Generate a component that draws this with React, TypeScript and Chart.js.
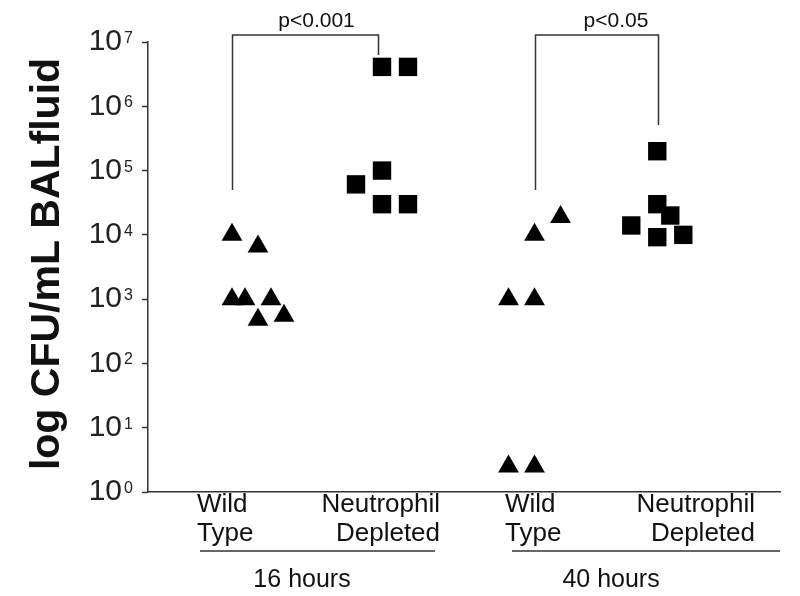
import React, { useEffect, useRef } from 'react';
import { Chart, registerables } from 'chart.js';

Chart.register(...registerables);

// ---- data ----
const GROUP_X = [1, 2, 3.23, 4.22];
const GROUP_LABELS = [
  ['Wild', 'Type'],
  ['Neutrophil', 'Depleted'],
  ['Wild', 'Type'],
  ['Neutrophil', 'Depleted'],
];
const GROUP_LABEL_ANCHOR_X = [0.508, 2.468, 2.992, 5.008];
const GROUP_LABEL_ALIGN = ['left', 'right', 'left', 'right'];
const TIME_LABELS = ['16 hours', '40 hours'];
const Y_TICK_EXPONENTS = [0, 1, 2, 3, 4, 5, 6, 7];
const Y_TITLE = 'log CFU/mL BALfluid';

const WT16_VALUES = [1e4, 6.6e3, 1e3, 1e3, 1e3, 4.8e2, 5.5e2];
const WT16_JITTER = [-1, 0, -1, -0.5, 0.5, 0, 1];
const ND16_VALUES = [4.1e6, 4.1e6, 1e5, 6.1e4, 3e4, 3e4];
const ND16_JITTER = [0, 1, 0, -1, 0, 1];
const WT40_VALUES = [1.9e4, 1e4, 1e3, 1e3, 2.5, 2.5];
const WT40_JITTER = [1, 0, -1, 0, -1, 0];
const ND40_VALUES = [2e5, 3e4, 2e4, 1.4e4, 9.2e3, 1e4];
const ND40_JITTER = [0, 0, 0.5, -1, 0, 1];

const P_LABELS = ['p<0.001', 'p<0.05'];
const BRACKET_X = [[0.79, 1.968], [3.234, 4.226]];
const BRACKET_LEG_VALUES = [[5e4, 6.3e6], [5e4, 5.1e5]];
const P_TEXT_X = [1.472, 3.887];
const TIME_UNDERLINE_X = [[0.532, 2.427], [3.048, 5.21]];
const TIME_LABEL_X = [1.355, 3.847];

const FAMILY = 'Arial, "Liberation Sans", Helvetica, sans-serif';
const JITTER_UNIT = 26 / 124;

function points(values: number[], jitter: number[], g: number) {
  return values.map((v, i) => ({ x: GROUP_X[g] + jitter[i] * JITTER_UNIT, y: v }));
}

const TICK_LEN = 6;
const TICK_PAD = 20;

const overlay = {
  id: 'overlay',
  afterDraw(chart: any) {
    const { ctx, scales } = chart;
    const xs = scales.x;
    const ys = scales.y;
    ctx.save();
    ctx.fillStyle = '#111';
    ctx.strokeStyle = '#333';
    ctx.lineWidth = 1.5;

    // exponents of the y tick labels
    ctx.font = `16px ${FAMILY}`;
    ctx.textAlign = 'left';
    ctx.textBaseline = 'alphabetic';
    ctx.fillStyle = '#222';
    Y_TICK_EXPONENTS.forEach((e) => {
      const py = ys.getPixelForValue(Math.pow(10, e));
      ctx.fillText(String(e), ys.right - TICK_LEN - TICK_PAD + 2, py + 1);
    });
    ctx.fillStyle = '#111';

    // y title
    ctx.save();
    ctx.translate(59, (ys.top + ys.bottom) / 2 - 3);
    ctx.rotate(-Math.PI / 2);
    ctx.font = `bold 41px ${FAMILY}`;
    ctx.textAlign = 'center';
    ctx.fillText(Y_TITLE, 0, 0);
    ctx.restore();

    // category labels
    ctx.font = `26px ${FAMILY}`;
    GROUP_LABELS.forEach((lines, g) => {
      const px = xs.getPixelForValue(GROUP_LABEL_ANCHOR_X[g]);
      ctx.textAlign = GROUP_LABEL_ALIGN[g];
      lines.forEach((t, i) => ctx.fillText(t, px, 512 + i * 29));
    });

    // time underlines and labels
    ctx.font = `25px ${FAMILY}`;
    ctx.textAlign = 'center';
    TIME_UNDERLINE_X.forEach(([a, b], i) => {
      ctx.beginPath();
      ctx.moveTo(xs.getPixelForValue(a), 551);
      ctx.lineTo(xs.getPixelForValue(b), 551);
      ctx.stroke();
      ctx.fillText(TIME_LABELS[i], xs.getPixelForValue(TIME_LABEL_X[i]), 587);
    });

    // significance brackets
    const top = ys.getPixelForValue(1e7) - 7;
    ctx.font = `21px ${FAMILY}`;
    BRACKET_X.forEach(([a, b], i) => {
      const xa = Math.round(xs.getPixelForValue(a)) + 0.5;
      const xb = Math.round(xs.getPixelForValue(b)) + 0.5;
      ctx.beginPath();
      ctx.moveTo(xa, ys.getPixelForValue(BRACKET_LEG_VALUES[i][0]));
      ctx.lineTo(xa, top);
      ctx.lineTo(xb, top);
      ctx.lineTo(xb, ys.getPixelForValue(BRACKET_LEG_VALUES[i][1]));
      ctx.stroke();
      ctx.fillText(P_LABELS[i], xs.getPixelForValue(P_TEXT_X[i]), top - 8);
    });
    ctx.restore();
  },
};

export default function App() {
  const ref = useRef<HTMLCanvasElement>(null);
  useEffect(() => {
    const canvas = ref.current;
    if (!canvas) return;
    const tri = { pointStyle: 'triangle', pointRadius: 12, backgroundColor: '#000', borderColor: '#000', borderWidth: 0 };
    const sq = { pointStyle: 'rect', pointRadius: 13, backgroundColor: '#000', borderColor: '#000', borderWidth: 0 };
    const chart = new Chart(canvas, {
      type: 'scatter',
      data: {
        datasets: [
          { label: 'WT 16h', data: points(WT16_VALUES, WT16_JITTER, 0), ...tri },
          { label: 'ND 16h', data: points(ND16_VALUES, ND16_JITTER, 1), ...sq },
          { label: 'WT 40h', data: points(WT40_VALUES, WT40_JITTER, 2), ...tri },
          { label: 'ND 40h', data: points(ND40_VALUES, ND40_JITTER, 3), ...sq },
        ] as any,
      },
      options: {
        animation: false,
        responsive: false,
        devicePixelRatio: 1,
        clip: false as any,
        layout: { padding: { top: 42, right: 20, left: 0, bottom: 0 } },
        plugins: { legend: { display: false }, tooltip: { enabled: false } },
        scales: {
          x: {
            type: 'linear',
            min: 1 - 110 / 124,
            max: 1 + 522 / 124,
            grid: { display: false },
            ticks: { display: false },
            border: { display: true, color: '#333', width: 1.5 },
            afterFit: (s: any) => { s.height = 104; },
          },
          y: {
            type: 'logarithmic',
            min: 1,
            max: 1e7,
            afterBuildTicks: (s: any) => {
              s.ticks = Y_TICK_EXPONENTS.map((e) => ({ value: Math.pow(10, e) }));
            },
            ticks: {
              callback: () => '10',
              font: { family: FAMILY, size: 30 },
              color: '#222',
              padding: TICK_PAD,
            },
            grid: { display: true, drawOnChartArea: false, drawTicks: true, tickLength: TICK_LEN, tickColor: '#333', tickWidth: 1.5 },
            border: { display: true, color: '#333', width: 1.5 },
            afterFit: (s: any) => { s.width = 148; },
          },
        },
      } as any,
      plugins: [overlay],
    });
    return () => chart.destroy();
  }, []);
  return (
    <div style={{ position: 'fixed', left: 0, top: 0, width: 800, height: 596, background: '#fff' }}>
      <canvas ref={ref} width={800} height={596} />
    </div>
  );
}
